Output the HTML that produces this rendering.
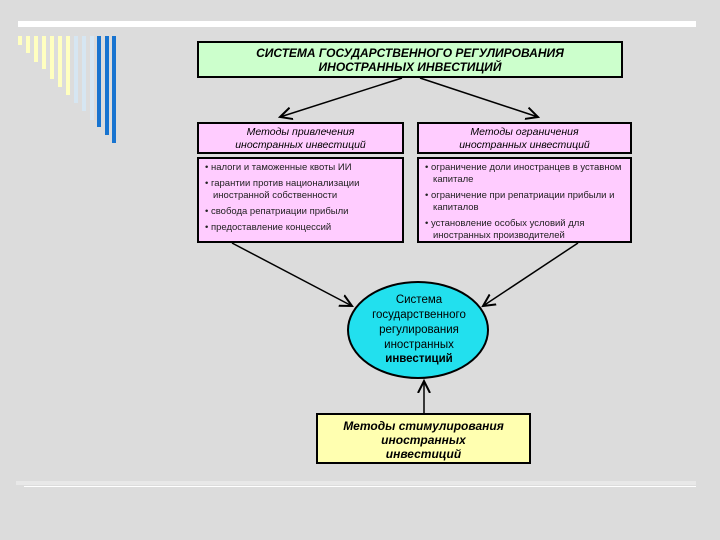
<!DOCTYPE html>
<html><head><meta charset="utf-8"><style>
html,body{margin:0;padding:0;background:#dcdcdc;}
body{width:720px;height:540px;position:relative;overflow:hidden;font-family:"Liberation Sans",sans-serif;}
.b{position:absolute;box-sizing:border-box;border:2px solid #000;text-align:center;color:#000;}
.li{font-size:9.5px;color:#222;text-align:left;line-height:12px;padding:3px 6px;}
.li div{margin-bottom:4px;padding-left:8px;text-indent:-8px;}
</style></head><body>
<svg width="720" height="540" style="position:absolute;left:0;top:0">
<rect x="18" y="21" width="678" height="6" fill="#fff"/>
<g fill="#ffffc0">
<rect x="18" y="36" width="4" height="9"/><rect x="26" y="36" width="4" height="17"/>
<rect x="34" y="36" width="4" height="26"/><rect x="42" y="36" width="4" height="33"/>
<rect x="50" y="36" width="4" height="43"/><rect x="58" y="36" width="4" height="51"/>
<rect x="66" y="36" width="4" height="59"/></g>
<g fill="#d6e6f2">
<rect x="74" y="36" width="4" height="67"/><rect x="82" y="36" width="4" height="75"/><rect x="90" y="36" width="4" height="84"/></g>
<g fill="#1874d0">
<rect x="97" y="36" width="4" height="91"/><rect x="105" y="36" width="4" height="99"/><rect x="112" y="36" width="4" height="107"/></g>
<rect x="16" y="481" width="680" height="4" fill="#e8e8e8"/>
<rect x="24" y="486" width="672" height="1" fill="#fff"/>
<defs><marker id="a" markerWidth="14" markerHeight="14" refX="12" refY="7" orient="auto" markerUnits="userSpaceOnUse"><path d="M0,1 L12,7 L0,13" fill="none" stroke="#000" stroke-width="2"/></marker></defs>
<g stroke="#000" stroke-width="1.5" fill="none" marker-end="url(#a)">
<line x1="402" y1="78" x2="280" y2="117"/>
<line x1="420" y1="78" x2="538" y2="117"/>
<line x1="232" y1="243" x2="352" y2="306"/>
<line x1="578" y1="243" x2="483" y2="306"/>
<line x1="424" y1="413" x2="424" y2="381"/>
</g>
<ellipse cx="418" cy="330" rx="70" ry="48" fill="#22e0ee" stroke="#000" stroke-width="2"/>
<text font-family="Liberation Sans, sans-serif" font-size="11.5" text-anchor="middle" fill="#000">
<tspan x="419" y="303">Система</tspan><tspan x="419" y="318">государственного</tspan><tspan x="419" y="333">регулирования</tspan><tspan x="419" y="348">иностранных</tspan><tspan x="419" y="362" font-weight="bold">инвестиций</tspan></text>
</svg>
<div class="b" style="left:197px;top:41px;width:426px;height:37px;background:#ccffcc;font-weight:bold;font-style:italic;font-size:12px;line-height:14px;padding-top:3px">СИСТЕМА ГОСУДАРСТВЕННОГО РЕГУЛИРОВАНИЯ<br>ИНОСТРАННЫХ ИНВЕСТИЦИЙ</div>
<div class="b" style="left:197px;top:122px;width:207px;height:32px;background:#ffccff;font-style:italic;font-size:10.5px;line-height:13px;padding-top:2px">Методы привлечения<br>иностранных инвестиций</div>
<div class="b" style="left:417px;top:122px;width:215px;height:32px;background:#ffccff;font-style:italic;font-size:10.5px;line-height:13px;padding-top:2px">Методы ограничения<br>иностранных инвестиций</div>
<div class="b li" style="left:197px;top:157px;width:207px;height:86px;background:#ffccff">
<div>• налоги и таможенные квоты ИИ</div><div>• гарантии против национализации иностранной собственности</div><div>• свобода репатриации прибыли</div><div>• предоставление концессий</div></div>
<div class="b li" style="left:417px;top:157px;width:215px;height:86px;background:#ffccff">
<div>• ограничение доли иностранцев в уставном капитале</div><div>• ограничение при репатриации прибыли и капиталов</div><div>• установление особых условий для иностранных производителей</div></div>
<div class="b" style="left:316px;top:413px;width:215px;height:51px;background:#ffffb0;font-weight:bold;font-style:italic;font-size:12px;line-height:14px;padding-top:4px">Методы стимулирования<br>иностранных<br>инвестиций</div>
</body></html>
